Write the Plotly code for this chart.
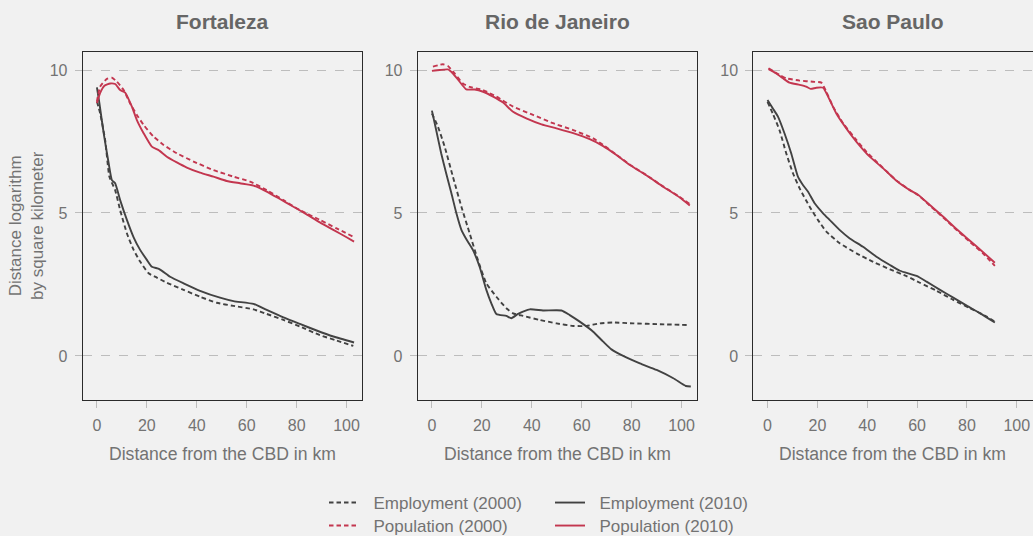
import plotly.graph_objects as go

# Density gradients by distance from the CBD (log scale, per square kilometer)
cities = ["Fortaleza", "Rio de Janeiro", "Sao Paulo"]

# --- Fortaleza ---
for_pop10_x = [0, 1.3, 3, 5.3, 7.3, 9.3, 11.3, 14, 16, 18.7, 22, 24.7, 28, 32, 36, 41.3, 46.7, 52, 57.3, 62.7, 68, 73.3, 78.7, 84, 89.3, 94.7, 100, 103]
for_pop10_y = [8.85, 9.2, 9.45, 9.53, 9.51, 9.3, 9.21, 8.72, 8.25, 7.79, 7.32, 7.2, 6.97, 6.77, 6.59, 6.41, 6.27, 6.12, 6.04, 5.96, 5.75, 5.49, 5.22, 4.95, 4.67, 4.41, 4.15, 4.0]
for_pop00_x = [0, 1.3, 4, 6, 8, 10.7, 13.3, 16, 18.7, 22.7, 26.7, 32, 38.7, 46.7, 54.7, 61.3, 68, 74.7, 81.3, 89.3, 96, 102.7]
for_pop00_y = [8.9, 9.42, 9.69, 9.73, 9.59, 9.3, 8.83, 8.43, 8.08, 7.67, 7.38, 7.09, 6.8, 6.5, 6.27, 6.1, 5.8, 5.45, 5.1, 4.76, 4.46, 4.17]
for_emp10_x = [0, 1, 2.7, 4.7, 6, 7.3, 9.3, 12, 14.7, 17.3, 20, 22, 25, 29.3, 34.7, 41.3, 49.3, 54.7, 62.7, 68, 74.7, 81.3, 88, 94.7, 103]
for_emp10_y = [9.39, 8.83, 7.79, 6.74, 6.15, 6.04, 5.45, 4.76, 4.15, 3.71, 3.36, 3.12, 3.04, 2.77, 2.54, 2.28, 2.04, 1.92, 1.82, 1.61, 1.35, 1.12, 0.89, 0.68, 0.47]
for_emp00_x = [0, 1.3, 3.3, 5, 7.3, 9.3, 12, 14.7, 17.3, 20.7, 24, 28, 34.7, 41.3, 48, 54.7, 62.7, 68, 74.7, 81.3, 89.3, 96, 102.7]
for_emp00_y = [8.9, 8.48, 7.55, 6.27, 5.8, 5.1, 4.29, 3.71, 3.3, 2.89, 2.74, 2.56, 2.31, 2.07, 1.86, 1.75, 1.63, 1.47, 1.26, 1.03, 0.73, 0.54, 0.35]

# --- Rio de Janeiro ---
rio_pop10_x = [0, 3.1, 6.4, 8.4, 11.1, 13.8, 17.1, 20.5, 24.5, 28.5, 32.5, 37.8, 43.9, 49.9, 56.6, 63.2, 68.6, 73.9, 79.3, 86, 92.6, 99.3, 103.3]
rio_pop10_y = [9.97, 10.0, 10.02, 9.88, 9.59, 9.32, 9.32, 9.24, 9.07, 8.86, 8.54, 8.31, 8.1, 7.96, 7.79, 7.58, 7.34, 7.03, 6.68, 6.31, 5.92, 5.54, 5.26]
rio_pop00_x = [0.4, 4.4, 6.4, 9.1, 12.4, 15.1, 20.5, 25.8, 32.5, 40.5, 48.5, 56.6, 64.6, 68.6, 73.9, 79.3, 86, 92.6, 99.3, 103.3]
rio_pop00_y = [10.12, 10.2, 10.14, 9.88, 9.53, 9.41, 9.3, 9.07, 8.72, 8.43, 8.14, 7.9, 7.61, 7.38, 7.04, 6.69, 6.32, 5.93, 5.56, 5.31]
rio_emp10_x = [0, 1.7, 3.7, 5.7, 7.8, 9.8, 11.8, 13.8, 16.4, 19.1, 21.8, 23.8, 25.8, 29.8, 31.8, 34.5, 39.2, 44.5, 51.9, 55.2, 59.2, 64.6, 68.6, 71.9, 76.6, 83.3, 90, 96.7, 101.7, 103.7]
rio_emp10_y = [8.58, 7.9, 7.09, 6.39, 5.69, 4.99, 4.41, 4.08, 3.71, 3.12, 2.31, 1.84, 1.47, 1.4, 1.32, 1.47, 1.63, 1.59, 1.59, 1.43, 1.2, 0.85, 0.5, 0.23, 0.0, -0.26, -0.49, -0.78, -1.05, -1.07]
rio_emp00_x = [0, 2.4, 5.1, 8.4, 11.8, 15.1, 18.4, 21.8, 25.8, 29.8, 32.5, 36.5, 43.2, 49.9, 56.6, 61.9, 67.2, 72.6, 80.6, 91.3, 103.3]
rio_emp00_y = [8.48, 8.02, 7.32, 6.27, 5.22, 4.29, 3.36, 2.54, 2.07, 1.67, 1.49, 1.4, 1.26, 1.14, 1.05, 1.05, 1.14, 1.17, 1.14, 1.11, 1.08]

# --- Sao Paulo ---
sp_pop10_x = [0.4, 3.5, 6.2, 8.8, 12.9, 15.5, 17.3, 19.6, 22.3, 24.3, 27.6, 31.6, 35.7, 41, 46.4, 51.7, 57.1, 60.5, 65.1, 70.5, 75.9, 81.2, 86.6, 91.2]
sp_pop10_y = [10.03, 9.88, 9.71, 9.56, 9.48, 9.42, 9.34, 9.38, 9.38, 9.07, 8.48, 7.96, 7.49, 6.97, 6.56, 6.13, 5.8, 5.63, 5.28, 4.87, 4.43, 4.03, 3.62, 3.26]
sp_pop00_x = [0.4, 4.8, 7.5, 12.9, 18.2, 21.6, 23.6, 26.3, 30.3, 35.7, 39.7, 46.4, 51.7, 57.1, 60.5, 65.1, 70.5, 75.9, 81.2, 86.6, 91.2]
sp_pop00_y = [10.06, 9.83, 9.71, 9.63, 9.59, 9.56, 9.24, 8.72, 8.14, 7.55, 7.14, 6.57, 6.14, 5.8, 5.62, 5.26, 4.84, 4.4, 3.99, 3.57, 3.15]
sp_emp10_x = [0, 2.1, 4.2, 6.8, 9.5, 12.2, 14.2, 16.2, 18.9, 22.3, 24.9, 28.9, 33, 38.3, 43.7, 49.1, 53.1, 59.8, 63.8, 69.2, 74.5, 79.9, 85.3, 91.2]
sp_emp10_y = [8.95, 8.66, 8.37, 7.79, 7.09, 6.27, 5.98, 5.75, 5.34, 4.99, 4.76, 4.41, 4.11, 3.82, 3.47, 3.18, 2.98, 2.8, 2.6, 2.31, 2.04, 1.76, 1.49, 1.17]
sp_emp00_x = [0, 2.1, 4.8, 7.5, 10.2, 12.9, 16.9, 20.2, 23.6, 29, 35.7, 42.4, 49.1, 55.8, 61.1, 67.8, 74.5, 81.2, 87.9, 91.2]
sp_emp00_y = [8.89, 8.48, 7.9, 7.09, 6.39, 5.86, 5.22, 4.76, 4.35, 3.94, 3.59, 3.29, 3.03, 2.79, 2.56, 2.28, 1.96, 1.67, 1.38, 1.2]

x_ticks = [0, 20, 40, 60, 80, 100]
y_ticks = [0, 5, 10]

DARK = "#424242"
RED = "#c3364f"
TEXT = "#737373"
BG = "#f1f1f1"
FONT = "Liberation Sans"
DASH = "4.5px,3px"
PAD = "\u00a0\u00a0"  # small gap between legend key and its label

panels = [
    [(for_emp00_x, for_emp00_y), (for_emp10_x, for_emp10_y), (for_pop00_x, for_pop00_y), (for_pop10_x, for_pop10_y)],
    [(rio_emp00_x, rio_emp00_y), (rio_emp10_x, rio_emp10_y), (rio_pop00_x, rio_pop00_y), (rio_pop10_x, rio_pop10_y)],
    [(sp_emp00_x, sp_emp00_y), (sp_emp10_x, sp_emp10_y), (sp_pop00_x, sp_pop00_y), (sp_pop10_x, sp_pop10_y)],
]
series = [
    ("Employment (2000)", DARK, DASH, "legend"),
    ("Employment (2010)", DARK, "solid", "legend"),
    ("Population (2000)", RED, DASH, "legend2"),
    ("Population (2010)", RED, "solid", "legend2"),
]

W, H = 1033, 536
x_dom_px = [(82.7, 362.3), (417.7, 697.3), (753.3, 1032.5)]
y_dom_px = (52, 400)

fig = go.Figure()
for i, curves in enumerate(panels):
    ax = "" if i == 0 else str(i + 1)
    for (xs, ys), (name, color, dash, leg) in zip(curves, series):
        fig.add_trace(go.Scatter(
            x=xs, y=ys, mode="lines", name=PAD + name,
            line=dict(color=color, width=1.9, dash=dash, shape="spline", smoothing=0.5),
            xaxis="x" + ax, yaxis="y" + ax,
            showlegend=(i == 0), legend=leg, hoverinfo="skip",
        ))

axis_common = dict(
    showline=True, linecolor="#2b2b2b", linewidth=1, mirror=True,
    ticks="outside", ticklen=7, tickcolor="#bdbdbd", tickwidth=1,
    tickfont=dict(family=FONT, size=16, color=TEXT), zeroline=False,
)
layout = dict(
    width=W, height=H, paper_bgcolor=BG, plot_bgcolor=BG,
    margin=dict(l=0, r=0, t=0, b=0, autoexpand=False), showlegend=True,
    font=dict(family=FONT, color=TEXT),
)
ydom = [1 - y_dom_px[1] / H, 1 - y_dom_px[0] / H]
annotations = []
for i, (x0, x1) in enumerate(x_dom_px):
    suf = "" if i == 0 else str(i + 1)
    layout["xaxis" + suf] = dict(
        axis_common, domain=[x0 / W, x1 / W], range=[-5.7, 106.3],
        tickvals=x_ticks, showgrid=False, ticklabelstandoff=4,
        anchor="y" + suf,
    )
    layout["yaxis" + suf] = dict(
        axis_common, domain=ydom, range=[-1.54, 10.63],
        tickvals=y_ticks, showgrid=True, gridcolor="#bdbdbd", griddash="dash", gridwidth=1,
        ticklabelstandoff=4, anchor="x" + suf,
    )
    cx = (x0 + x1) / 2 / W
    annotations.append(dict(
        text="<b>%s</b>" % cities[i], x=cx, y=1 - 22 / H, xref="paper", yref="paper",
        xanchor="center", yanchor="middle", showarrow=False,
        font=dict(family=FONT, size=21, color="#666666"),
    ))
    annotations.append(dict(
        text="Distance from the CBD in km", x=cx, y=1 - 454 / H, xref="paper", yref="paper",
        xanchor="center", yanchor="middle", showarrow=False,
        font=dict(family=FONT, size=17.6, color=TEXT),
    ))
annotations.append(dict(
    text="Distance logarithm<br>by square kilometer", x=27 / W, y=1 - 226 / H,
    xref="paper", yref="paper", xanchor="center", yanchor="middle", textangle=-90,
    showarrow=False, font=dict(family=FONT, size=17, color=TEXT),
))
layout["annotations"] = annotations

legend_common = dict(
    orientation="h", xanchor="left", yanchor="middle", x=324 / W,
    xref="container", yref="container",
    bgcolor="rgba(0,0,0,0)", font=dict(family=FONT, size=17, color=TEXT),
    entrywidth=181, entrywidthmode="pixels", tracegroupgap=0, itemwidth=30,
)
layout["legend"] = dict(legend_common, y=1 - 503 / H)
layout["legend2"] = dict(legend_common, y=1 - 526 / H)

fig.update_layout(**layout)
fig.write_html("out.html")
